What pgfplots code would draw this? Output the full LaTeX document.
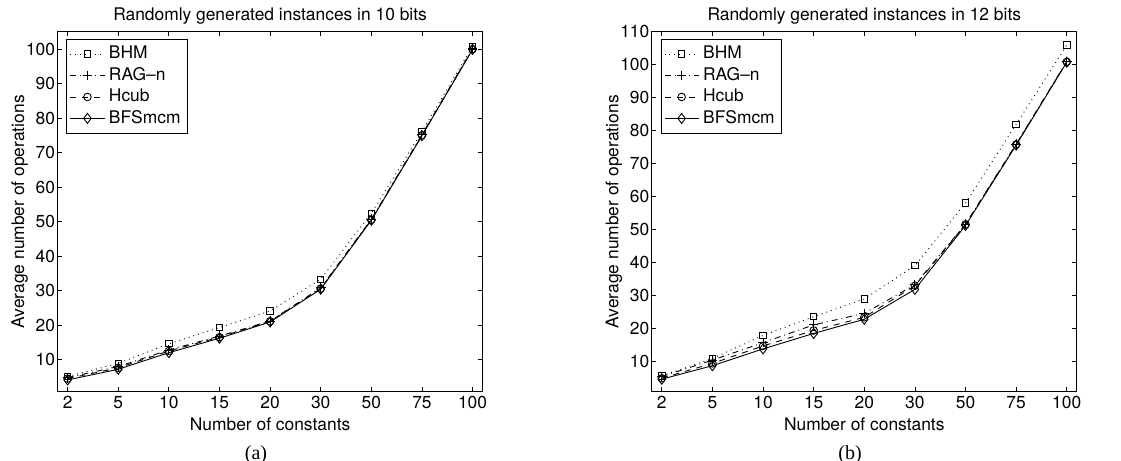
\documentclass[border=0pt]{standalone}
\usepackage{fontspec}
\setmainfont{TeX Gyre Heros}
\newfontfamily\capfont{Liberation Serif}
\usepackage{pgfplots}
\usepackage{pgfplotstable}
\pgfplotsset{compat=1.18}

% columns: category index, BHM, RAG-n, Hcub, BFSmcm
\pgfplotstableread{
x bhm rag hcub bfs
0 5.1 4.8 4.5 4.1
1 8.9 8.0 7.6 7.2
2 14.6 12.8 12.5 12.0
3 19.3 16.8 16.5 16.2
4 24.1 21.2 21.1 20.9
5 33.3 30.8 30.6 30.4
6 52.4 50.7 50.5 50.4
7 76.1 75.2 75.0 74.9
8 100.8 100.1 100.0 99.9
}\tenbits

\pgfplotstableread{
x bhm rag hcub bfs
0 5.5 5.3 4.8 4.5
1 10.8 10.3 9.3 8.6
2 17.8 15.6 14.6 13.7
3 23.5 21.0 19.3 18.4
4 28.9 24.5 23.3 22.7
5 39.0 33.2 32.9 31.8
6 58.0 51.6 51.5 51.2
7 81.9 75.9 75.8 75.6
8 106.0 101.0 100.9 100.8
}\twelvebits

\pgfplotsset{
  mcm/.style={
    scale only axis, width=212.6pt, height=179.9pt,
    anchor=south west,
    xmin=-0.2, xmax=8.2, ymin=0.7,
    xtick={0,...,8}, xticklabels={2,5,10,15,20,30,50,75,100},
    tick align=inside, major tick length=2.2pt,
    every tick/.style={black, line width=0.4pt},
    axis line style={line width=0.6pt},
    font=\fontsize{8.7}{9.5}\selectfont,
    tick label style={font=\fontsize{8.7}{9.5}\selectfont},
    /pgf/number format/assume math mode=true,
    yticklabel style={inner xsep=1pt},
    xticklabel style={inner ysep=2pt},
    xlabel={Number of constants},
    ylabel={Average number of operations},
    xlabel style={yshift=1pt},
    ylabel style={yshift=-5.5pt},
    title style={yshift=-5.5pt},
    legend cell align=left,
    legend style={at={(axis description cs:0.021,0.981)}, anchor=north west,
      draw=black, line width=0.5pt, fill=white,
      font=\fontsize{8.7}{9.5}\selectfont, row sep=-1.2pt, inner sep=1.5pt},
    every axis plot/.append style={black, line width=0.45pt,
      mark options={solid, fill=none}},
  },
  bhm/.style={dotted, mark=square, mark size=1.6pt},
  rag/.style={dashdotted, mark=+, mark size=2.4pt},
  hcub/.style={dashed, mark=o, mark size=1.9pt},
  bfs/.style={solid, mark=diamond, mark size=2.5pt},
}

\begin{document}
\begin{tikzpicture}
\useasboundingbox (0,0) rectangle (560.5pt,230.5pt);

\begin{axis}[mcm, name=a, at={(28.75pt,34.65pt)},
  ymax=105, ytick={10,20,...,100},
  title={Randomly generated instances in 10 bits}]
  \addplot[bhm] table[x=x, y=bhm] {\tenbits};
  \addplot[rag] table[x=x, y=rag] {\tenbits};
  \addplot[hcub] table[x=x, y=hcub] {\tenbits};
  \addplot[bfs] table[x=x, y=bfs] {\tenbits};
  \legend{BHM, RAG\textendash n, Hcub, BFSmcm}
\end{axis}

\begin{axis}[mcm, name=b, at={(325.85pt,34.65pt)},
  ymax=110, ytick={10,20,...,110},
  title={Randomly generated instances in 12 bits}]
  \addplot[bhm] table[x=x, y=bhm] {\twelvebits};
  \addplot[rag] table[x=x, y=rag] {\twelvebits};
  \addplot[hcub] table[x=x, y=hcub] {\twelvebits};
  \addplot[bfs] table[x=x, y=bfs] {\twelvebits};
  \legend{BHM, RAG\textendash n, Hcub, BFSmcm}
\end{axis}

\node[font=\capfont\fontsize{10}{11}\selectfont] at (128pt,3.3pt) {(a)};
\node[font=\capfont\fontsize{10}{11}\selectfont] at (425pt,3.3pt) {(b)};
\end{tikzpicture}
\end{document}
